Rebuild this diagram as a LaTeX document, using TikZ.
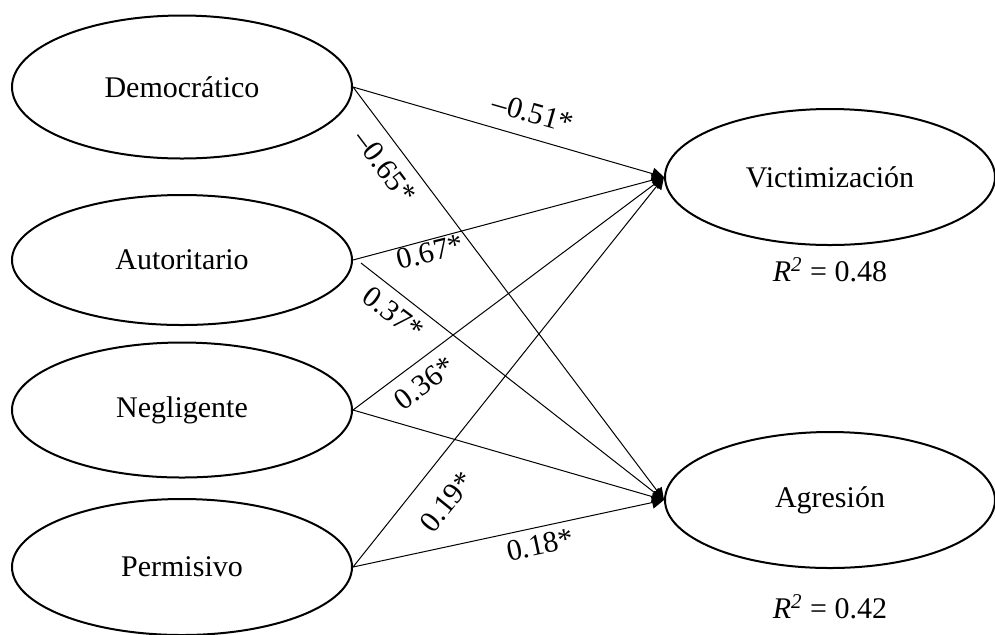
\documentclass[tikz,border=0pt]{standalone}
\usepackage{fontspec}
\setmainfont{Liberation Serif}
\usetikzlibrary{shapes.geometric,arrows.meta}
\tikzset{
  var/.style={ellipse, draw, line width=1pt, inner sep=0pt, font=\fontsize{15}{18}\selectfont},
  conn/.style={line width=0.5pt, -{Triangle[length=6pt,width=6pt]}},
  lbl/.style={inner sep=0pt, font=\fontsize{15}{18}\selectfont},
}
\begin{document}
\begin{tikzpicture}[x=0.5pt,y=-0.5pt]
\useasboundingbox (0,0) rectangle (995,634);
\node[var, minimum width=170pt, minimum height=71.5pt] (dem) at (182,87) {Democrático};
\node[var, minimum width=170pt, minimum height=65pt] (aut) at (182,260) {Autoritario};
\node[var, minimum width=170pt, minimum height=67.5pt] (neg) at (182,410) {Negligente};
\node[var, minimum width=170pt, minimum height=68pt] (per) at (182,567) {Permisivo};
\node[var, minimum width=165pt, minimum height=68pt] (vic) at (830,177) {Victimización};
\node[var, minimum width=165pt, minimum height=68pt] (agr) at (830,500) {Agresión};
\node[lbl] (r1) at (830,270) {\textit{R}\textsuperscript{\textit{2}} = 0.48};
\node[lbl] (r2) at (830,607) {\textit{R}\textsuperscript{\textit{2}} = 0.42};
\draw[conn] (dem.east) -- (vic.west);
\draw[conn] (dem.east) -- (agr.west);
\draw[conn] (aut.east) -- (vic.west);
\draw[conn] ([xshift=4pt,yshift=-1.5pt]aut.east) -- (agr.west);
\draw[conn] (neg.east) -- (vic.west);
\draw[conn] (neg.east) -- (agr.west);
\draw[conn] (per.east) -- (vic.west);
\draw[conn] (per.east) -- (agr.west);
\node[lbl, rotate=-16] (l1) at (533,113) {–0.51*};
\node[lbl, rotate=-53] (l2) at (385,167) {–0.65*};
\node[lbl, rotate=14] (l3) at (430,252) {0.67*};
\node[lbl, rotate=-37] (l4) at (393,313) {0.37*};
\node[lbl, rotate=37] (l5) at (425,383) {0.36*};
\node[lbl, rotate=51] (l6) at (447,502) {0.19*};
\node[lbl, rotate=12] (l7) at (540,545) {0.18*};
\end{tikzpicture}
\end{document}
